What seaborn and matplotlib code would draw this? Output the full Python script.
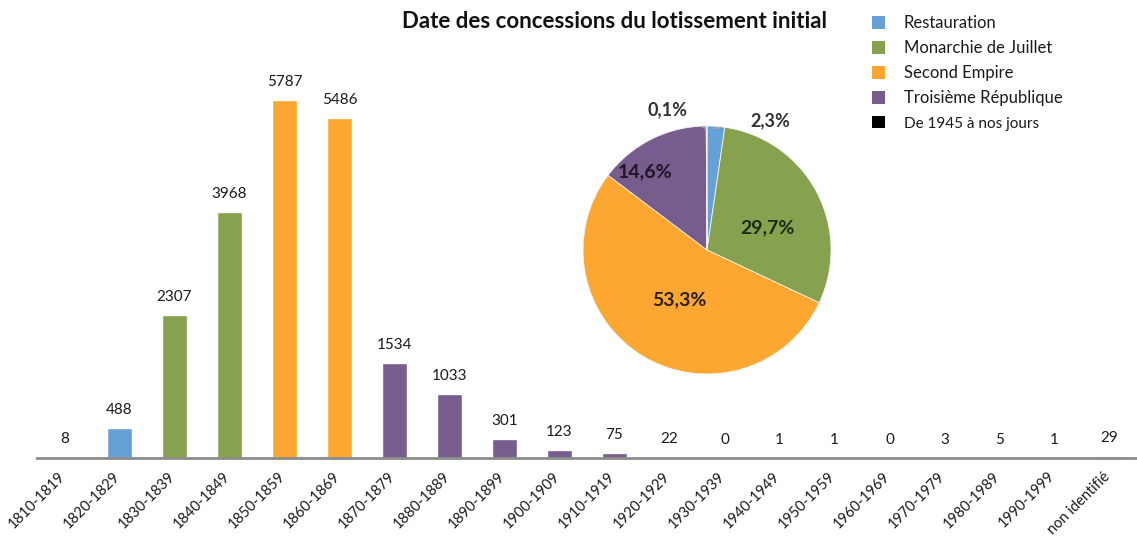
import matplotlib
matplotlib.use("Agg")
import matplotlib.pyplot as plt
from matplotlib.patches import Patch
from matplotlib.transforms import ScaledTranslation
import numpy as np
import pandas as pd
import seaborn as sns

# Concessions per decade of the initial subdivision
decades = ["1810-1819", "1820-1829", "1830-1839", "1840-1849", "1850-1859",
           "1860-1869", "1870-1879", "1880-1889", "1890-1899", "1900-1909",
           "1910-1919", "1920-1929", "1930-1939", "1940-1949", "1950-1959",
           "1960-1969", "1970-1979", "1980-1989", "1990-1999", "non identifié"]
counts = [8, 488, 2307, 3968, 5787, 5486, 1534, 1033, 301, 123,
          75, 22, 0, 1, 1, 0, 3, 5, 1, 29]
periods = ["Restauration", "Restauration", "Monarchie de Juillet", "Monarchie de Juillet",
           "Second Empire", "Second Empire", "Troisième République", "Troisième République",
           "Troisième République", "Troisième République", "Troisième République",
           "Troisième République", "Troisième République", "Troisième République",
           "De 1945 à nos jours", "De 1945 à nos jours", "De 1945 à nos jours",
           "De 1945 à nos jours", "De 1945 à nos jours", "Non identifié"]

# Share of concessions per political period
regimes = ["Restauration", "Monarchie de Juillet", "Second Empire",
           "Troisième République", "De 1945 à nos jours"]
shares = [2.3, 29.7, 53.3, 14.6, 0.1]

palette = {
    "Restauration": "#65A0D6",
    "Monarchie de Juillet": "#86A24E",
    "Second Empire": "#FBA731",
    "Troisième République": "#775C8E",
    "De 1945 à nos jours": "#000000",
    "Non identifié": "#7F7F7F",
}

sns.set_theme(style="white")
plt.rcParams["font.family"] = ["Lato", "DejaVu Sans"]

df = pd.DataFrame({"decade": decades, "count": counts, "period": periods})

W, H = 1137, 540
fig = plt.figure(figsize=(W / 100, H / 100), dpi=100)
fig.patch.set_facecolor("white")

# Bar chart of concessions per decade
ax = fig.add_axes([37 / W, (H - 458) / H, 1 - 37 / W, (458 - 20) / H])
sns.barplot(data=df, x="decade", y="count", hue="period", palette=palette,
            dodge=False, width=0.45, legend=False, ax=ax, saturation=1)
ax.set_xlim(-0.5, len(decades) - 0.5)
ax.set_ylim(0, 438 / 0.0619)
ax.set_xlabel("")
ax.set_ylabel("")
ax.set_yticks([])
for s in ["top", "right", "left"]:
    ax.spines[s].set_visible(False)
ax.spines["bottom"].set_color("#8C8C8C")
ax.spines["bottom"].set_linewidth(2)
ax.tick_params(axis="x", length=0, pad=3)
ax.set_xticks(range(len(decades)))
ax.set_xticklabels(decades, rotation=45, ha="right", rotation_mode="anchor",
                   fontsize=10.5, color="#1a1a1a")
shift = ScaledTranslation(-7 / 100, -7 / 100, fig.dpi_scale_trans)
for lab in ax.get_xticklabels():
    lab.set_transform(lab.get_transform() + shift)
for i, v in enumerate(counts):
    ax.annotate(f"{v}", (i, v), xytext=(0, 13), textcoords="offset points",
                ha="center", va="center", fontsize=11, color="#1a1a1a")

# Title
fig.text(614 / W, 1 - 21 / H, "Date des concessions du lotissement initial",
         ha="center", va="center", fontsize=16, fontweight="bold", color="#111111")

# Legend of periods
handles = [Patch(facecolor=palette[r], edgecolor="none") for r in regimes]
leg = fig.legend(handles, regimes, loc="upper left",
                 bbox_to_anchor=(857 / W, 1 - 0 / H), frameon=False,
                 fontsize=12, handlelength=0.8, handleheight=0.8,
                 handletextpad=1.1, labelspacing=0.55)
for t in leg.get_texts():
    t.set_color("#1a1a1a")
leg.get_texts()[-1].set_fontsize(11)

# Pie chart of periods
cx, cy, r = 707, 250, 124
pax = fig.add_axes([(cx - r) / W, (H - cy - r) / H, 2 * r / W, 2 * r / H])
wedges, _ = pax.pie(shares, colors=[palette[g] for g in regimes], startangle=90,
                    counterclock=False, radius=1,
                    wedgeprops=dict(edgecolor="#f4f4f4", linewidth=0.6))
pax.set_xlim(-1, 1)
pax.set_ylim(-1, 1)
pax.set_aspect("equal")
pax.axis("off")

label_pos = {
    "Monarchie de Juillet": (0.49, 0.18),
    "Second Empire": (-0.22, -0.40),
    "Troisième République": (-0.50, 0.63),
}
label_col = {
    "Monarchie de Juillet": "#1c2a12",
    "Second Empire": "#2a2018",
    "Troisième République": "#1e1628",
}
for g, s in zip(regimes, shares):
    txt = f"{s:.1f}%".replace(".", ",")
    if g in label_pos:
        x, y = label_pos[g]
        pax.text(x, y, txt, ha="center", va="center", fontsize=14,
                 fontweight="bold", color=label_col[g])

# Small slices labelled outside with leader lines
pax.annotate("0,1%", xy=(-0.01, 0.98), xytext=(-0.32, 1.13),
             ha="center", va="center", fontsize=13, fontweight="bold",
             color="#333333", annotation_clip=False,
             arrowprops=dict(arrowstyle="-", color="#A8A8A8", lw=1,
                             shrinkA=10, shrinkB=0))
pax.annotate("2,3%", xy=(0.05, 0.98), xytext=(0.51, 1.04),
             ha="center", va="center", fontsize=13, fontweight="bold",
             color="#333333", annotation_clip=False,
             arrowprops=dict(arrowstyle="-", color="#A8A8A8", lw=1,
                             shrinkA=20, shrinkB=0))

fig.savefig("out.png", dpi=100, facecolor="white")
